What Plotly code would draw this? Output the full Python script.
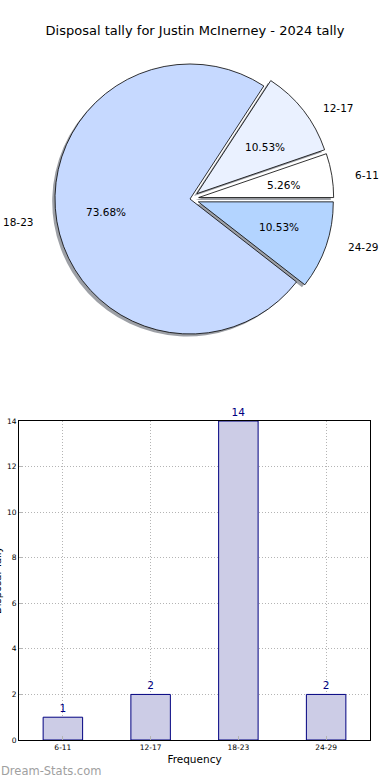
import math
import plotly.graph_objects as go

# ---------------- data ----------------
categories = ["6-11", "12-17", "18-23", "24-29"]
counts = [1, 2, 14, 2]
title_text = "Disposal tally for Justin McInerney - 2024 tally"
y_ticks = [0, 2, 4, 6, 8, 10, 12, 14]

# ---------------- styles ----------------
pie_colors = ["#ffffff", "#eaf1ff", "#c6d9ff", "#b3d4ff"]
pull = [0.065, 0.065, 0.0, 0.065]
bar_fill = "#ccccE6"
bar_line = "#000080"
grid_col = "#b4b4b4"
W, H = 390, 780
FONT = "DejaVu Sans"

# pie geometry (pixels)
CX, CY = 190, 199          # centre
RX, RY = 142, 127.5        # reference ellipse radii (for labels)
R = 135                    # plotly pie radius (circle)
maxpull = max(pull)
half = R * (1 + maxpull)

total = sum(counts)
# plotly (counterclockwise): the first slice ends at `rotation`; we want it to start at 3 o'clock
rotation = 90 - 360.0 * counts[0] / total


def px_x(x):
    return x / W


def px_y(y):
    return 1 - y / H


def dom(cx, cy):
    return dict(x=[px_x(cx - half), px_x(cx + half)],
                y=[px_y(cy + half), px_y(cy - half)])


fig = go.Figure()

# shadow pie
fig.add_trace(go.Pie(
    labels=categories, values=counts, sort=False, direction="counterclockwise",
    rotation=rotation, pull=pull, textinfo="none", hoverinfo="skip",
    marker=dict(colors=["rgba(60,65,77,0.5)"] * len(counts), line=dict(width=0)),
    domain=dom(CX - 2.8, CY + 2.5), showlegend=False,
))
# main pie
fig.add_trace(go.Pie(
    labels=categories, values=counts, sort=False, direction="counterclockwise",
    rotation=rotation, pull=pull, textinfo="none",
    marker=dict(colors=pie_colors, line=dict(color="black", width=0.8)),
    domain=dom(CX, CY), showlegend=False,
))

# pie labels and percentages computed from the data
annotations = []
start = 0.0
for cat, v, p in zip(categories, counts, pull):
    frac = v / total
    mid = math.radians((start + frac / 2) * 360)
    start += frac
    c, s = math.cos(mid), math.sin(mid)
    lx = CX + (1.1 + p) * RX * c
    ly = CY - (1.1 + p) * RY * s
    annotations.append(dict(
        x=px_x(lx), y=px_y(ly), xref="paper", yref="paper", text=cat,
        showarrow=False, xanchor="left" if c > 0 else "right", yanchor="middle",
        font=dict(family=FONT, size=10.5, color="black")))
    qx = CX + (0.6 + p) * RX * c
    qy = CY - (0.6 + p) * RY * s
    annotations.append(dict(
        x=px_x(qx), y=px_y(qy), xref="paper", yref="paper",
        text=f"{frac * 100:.2f}%", showarrow=False, xanchor="center",
        yanchor="middle", font=dict(family=FONT, size=10.5, color="black")))

# bar chart
fig.add_trace(go.Bar(
    x=categories, y=counts, width=0.45,
    marker=dict(color=bar_fill, line=dict(color=bar_line, width=1)),
    text=[str(v) for v in counts], textposition="outside", cliponaxis=False,
    textfont=dict(family=FONT, size=10.5, color=bar_line),
    xaxis="x", yaxis="y", showlegend=False, hoverinfo="skip",
))

# y-axis title (mostly cut off at the page edge, as in the reference)
annotations.append(dict(
    x=px_x(-3), y=px_y(580), xref="paper", yref="paper", text="Disposal Tally",
    textangle=-90, showarrow=False, xanchor="center", yanchor="middle",
    font=dict(family=FONT, size=10, color="black")))
# watermark
annotations.append(dict(
    x=px_x(-1), y=px_y(771), xref="paper", yref="paper", text="Dream-Stats.com",
    showarrow=False, xanchor="left", yanchor="middle",
    font=dict(family=FONT, size=11.5, color="#a0a0a0")))

axis_common = dict(
    showline=True, mirror=True, linecolor="black", linewidth=1,
    showgrid=True, gridcolor=grid_col, griddash="1px,2px", gridwidth=1,
    ticks="inside", ticklen=4, tickcolor=grid_col,
    tickfont=dict(family=FONT, size=7.5, color="black"),
    zeroline=False, fixedrange=True, automargin=False,
)

fig.update_layout(
    width=W, height=H, margin=dict(l=0, r=0, t=0, b=0, autoexpand=False),
    paper_bgcolor="white", plot_bgcolor="white",
    font=dict(family=FONT, color="black"),
    title=dict(text=title_text, x=0.5, xanchor="center", y=px_y(30),
               yanchor="middle", font=dict(family=FONT, size=13, color="black")),
    annotations=annotations,
    xaxis=dict(domain=[px_x(19), px_x(370)], anchor="y", type="category",
               range=[-0.5, 3.5],
               title=dict(text="Frequency", standoff=4,
                          font=dict(family=FONT, size=10.5, color="black")),
               **axis_common),
    yaxis=dict(domain=[px_y(740), px_y(421)], anchor="x", range=[0, 14],
               tickvals=y_ticks, **axis_common),
)

fig.write_html("out.html", config={"displayModeBar": False},
               post_script="document.body.style.margin='0';")
